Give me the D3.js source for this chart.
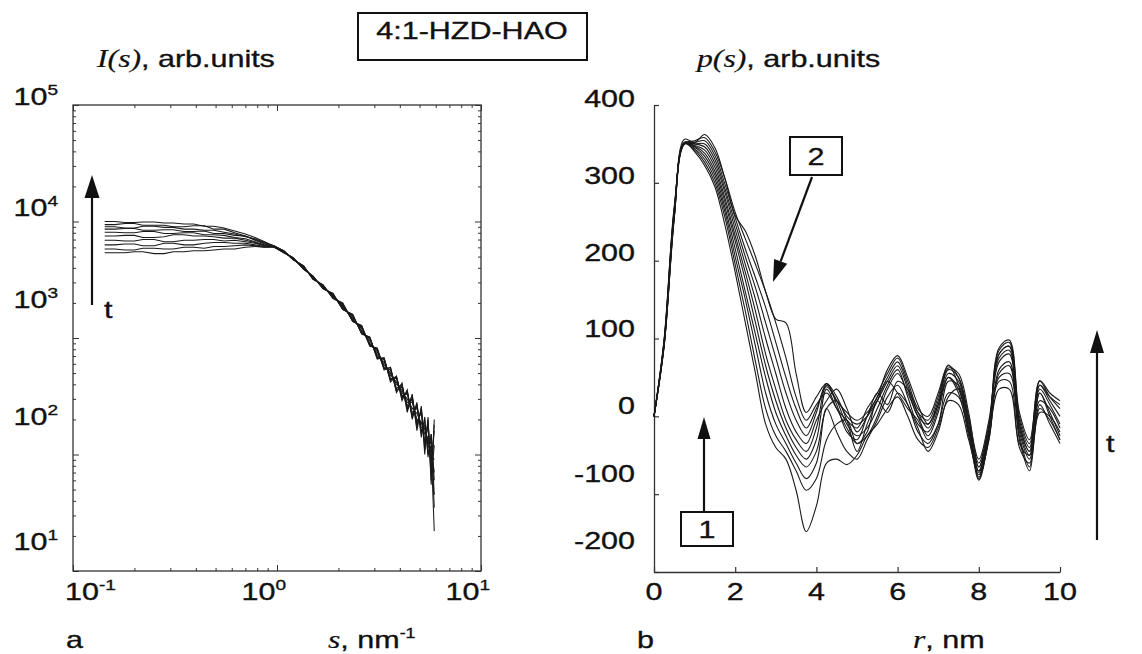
<!DOCTYPE html>
<html><head><meta charset="utf-8">
<script src="https://cdn.jsdelivr.net/npm/d3@7"></script>
<style>body{margin:0;background:#fff} svg{display:block}</style>
</head><body>
<svg id="c" width="1142" height="654"></svg>
<script>
// ---------- DATA ----------
const chartTitle = "4:1-HZD-HAO";

// Panel a: scattering intensity I(s), log-log
const sGrid = [0.143,0.16,0.18,0.2,0.22,0.25,0.28,0.31,0.35,0.39,0.44,0.49,0.55,0.62,0.7,0.78,0.87,
  0.97,1.08,1.2,1.35,1.5,1.68,1.88,2.1,2.35,2.6,2.85,3.1,3.35,3.6,3.85,4.1,4.35,4.6,4.85,5.1,5.3,5.5,5.7,5.9];
const intensity0 = [10000,10000,9800,9800,9900,9900,9700,9700,9500,9500,9100,9100,8800,8300,7800,7300,6700,
  6100,5600,4700,4150,3200,2850,2200,2000,1380,1280,850,820,540,560,350,390,260,320,180,240,120,190,70,180];
const intensity1 = [9400,9400,9600,9600,9300,9300,9300,9000,9000,9200,9200,8600,8600,8000,7500,7000,6500,
  6000,5400,4900,3900,3400,2650,2400,1750,1600,1080,1020,660,680,420,470,300,350,210,270,150,200,100,150,60];
const intensity2 = [9000,9000,8800,8800,9100,9100,8900,8900,8600,8600,8400,8400,8100,7800,7400,7100,6600,
  6200,5550,4720,4100,3250,2800,2250,1950,1400,1250,870,800,550,540,360,380,250,300,190,230,125,180,75,160];
const intensity3 = [8600,8600,8700,8700,8400,8400,8500,8500,8200,8200,8300,7900,7900,7600,7500,6900,6400,
  6050,5450,4880,3920,3380,2700,2380,1780,1560,1100,1000,680,660,440,460,310,340,220,260,160,180,115,130,35];
const intensity4 = [8100,8100,8000,8000,8200,8200,7900,7900,8000,8000,7700,7700,7600,7300,7100,6700,6300,
  6150,5580,4750,4120,3220,2830,2230,1920,1420,1230,880,790,560,530,370,400,240,310,170,250,110,200,60,120];
const intensity5 = [7500,7500,7600,7600,7300,7300,7400,7700,7700,7500,7500,7400,7200,7200,6900,6600,6200,
  6000,5420,4850,3950,3360,2680,2360,1800,1540,1120,990,690,650,450,450,320,330,230,250,170,170,130,110,22];
const intensity6 = [6900,6900,6800,6800,7000,7000,6700,6700,6900,6900,7000,7000,6800,6900,6700,6500,6200,
  6100,5500,4800,4050,3300,2780,2280,1880,1460,1200,900,760,590,500,400,360,280,280,200,190,150,140,100,90];
const intensity7 = [6300,6300,6400,6400,6200,6200,6500,6500,6300,6300,6500,6600,6600,6500,6500,6300,6100,
  6080,5380,4900,3880,3420,2640,2420,1760,1580,1090,1010,670,670,430,470,290,360,200,280,140,210,95,150,45];
const intensity8 = [5800,5800,5700,5700,5900,5900,5800,5800,6000,6000,5900,6100,6100,6200,6300,6200,6000,
  6120,5620,4680,4180,3180,2870,2180,1980,1390,1270,860,810,530,560,340,410,230,330,160,260,100,210,55,200];
const intensity9 = [5400,5400,5400,5500,5500,5300,5300,5500,5500,5600,5600,5700,5800,5800,6000,6100,6000,
  6000,5480,4820,3980,3320,2720,2320,1840,1500,1150,950,720,620,480,420,340,300,250,225,185,165,125,115,70];
const intensitySeries = [intensity0,intensity1,intensity2,intensity3,intensity4,intensity5,intensity6,intensity7,intensity8,intensity9];

// Panel b: distance distribution p(r)
const rGrid = [0,0.25,0.5,0.75,1,1.25,1.5,1.75,2,2.25,2.5,2.75,3,3.25,3.5,3.75,4,4.25,4.5,4.75,5,
  5.25,5.5,5.75,6,6.25,6.5,6.75,7,7.25,7.5,7.75,8,8.25,8.5,8.75,9,9.25,9.5,9.75,10];
const p0 = [0,100,270,352,340,322, 295,245,185,120,55,-10,-40,-55,-95,-148,-115,
  -60,-55,-62,-50,-25,-10,10,25,0,-30,-40,-15,20,15,-30,-72,-25,35,35,-35,-50,15,-10,-35];
const p1 = [0,98,268,350,342,326, 300,255,195,135,70,10,-25,-45,-70,-95,-80,
  -30,-10,-5,-35,-20,20,5,30,15,-20,-35,-10,30,25,-25,-78,-30,45,45,-40,-60,10,-5,-30];
const p2 = [0,97,266,351,344,330, 305,262,205,150,90,30,-10,-35,-60,-80,-60,
  10,-20,-45,-55,-30,-5,25,40,15,-15,-45,-20,25,35,-15,-65,-15,50,55,-30,-70,5,0,-20];
const p3 = [0,96,265,352,346,334, 310,268,215,160,105,50,5,-25,-50,-65,-45,
  10,20,-5,-45,-10,20,45,30,10,-5,-30,-10,45,40,-10,-70,-20,55,65,-25,-65,20,10,-15];
const p4 = [0,95,264,350,347,338, 315,275,225,175,120,65,20,-15,-40,-55,-30,
  35,10,-15,-35,-25,0,35,55,30,0,-25,5,50,35,-20,-75,-30,60,70,-20,-55,30,5,-25];
const p5 = [0,94,262,351,348,342, 320,280,232,185,135,80,35,-5,-30,-45,-15,
  40,20,-10,-25,-15,10,40,60,25,-10,-20,10,55,45,-5,-60,-10,70,80,-15,-50,35,15,-10];
const p6 = [0,93,260,350,350,346, 325,287,240,195,150,100,55,10,-20,-35,-5,
  20,35,10,-20,0,30,15,45,35,5,-15,15,60,50,0,-55,-5,75,85,-10,-45,40,20,0];
const p7 = [0,92,258,352,350,350, 330,292,248,205,165,120,75,30,-5,-25,5,
  42,25,0,-10,0,20,45,65,35,0,-10,20,62,55,5,-65,-15,80,90,-5,-40,45,25,10];
const p8 = [0,92,257,351,352,354, 335,298,255,215,178,140,95,50,10,-15,10,
  38,20,5,-5,5,25,50,70,40,5,-5,25,65,50,-5,-80,-20,85,95,0,-35,46,30,20];
const p9 = [0,91,256,350,354,358, 340,305,262,228,195,160,120,75,25,-5,15,
  30,10,-5,-15,10,30,55,75,45,10,0,30,66,40,-15,-82,-25,88,98,5,-30,40,25,15];
const p10 = [0,90,255,356,352,362, 345,305,258,238,205,160,125,120,55,5,25,
  42,15,-20,-30,0,25,60,78,50,15,-10,15,50,30,-20,-70,-20,80,90,-10,-45,30,0,-30];
const pSeries = [p0,p1,p2,p3,p4,p5,p6,p7,p8,p9,p10];

// Tick values / labels
const aYExponents = [1,2,3,4,5];
const aXExponents = [-1,0,1];
const bYTicks = [-200,-100,0,100,200,300,400];
const bXTicks = [0,2,4,6,8,10];

// ---------- DRAWING ----------
const svg = d3.select("#c");
const SX = 1.27, FS = 24, SUP = 15;
const SANS = "'Liberation Sans', Arial, Helvetica, sans-serif";
const SERIF = "'Liberation Serif', 'Times New Roman', serif";
const INK = "#111";

function stext(x, y, anchor) {
  const g = svg.append("g").attr("transform", `translate(${x},${y}) scale(${SX},1)`);
  return g.append("text").attr("text-anchor", anchor || "start")
    .attr("font-family", SANS).attr("font-size", FS).attr("fill", INK)
    .attr("stroke", INK).attr("stroke-width", 0.35);
}
function arrow(x1, y1, x2, y2, hl, hw) {
  const a = Math.atan2(y2 - y1, x2 - x1);
  const bx = x2 - hl * Math.cos(a), by = y2 - hl * Math.sin(a);
  svg.append("line").attr("x1", x1).attr("y1", y1).attr("x2", bx).attr("y2", by)
    .attr("stroke", INK).attr("stroke-width", 2.2);
  const px = -Math.sin(a) * hw / 2, py = Math.cos(a) * hw / 2;
  svg.append("path").attr("d", `M${x2},${y2}L${bx + px},${by + py}L${bx - px},${by - py}Z`).attr("fill", INK);
}

// ===== Panel a =====
const ax = d3.scaleLog().domain([0.1, 10]).range([73, 481]);
const ay = d3.scaleLog().domain([10, 1e5]).range([571, 105]);
const isMajor = v => Math.abs(Math.log10(v) - Math.round(Math.log10(v))) < 1e-6;

function logAxis(axisFn, scale, transform, sign, vertical) {
  const g = svg.append("g").attr("transform", transform)
    .call(axisFn(scale).tickValues(scale.ticks()).tickSizeInner(-4).tickSizeOuter(0).tickFormat(""));
  g.select(".domain").remove();
  g.selectAll(".tick line").attr("stroke", "#333").attr("stroke-width", 1)
    .each(function (d) {
      const len = isMajor(d) ? 6 : 3;
      d3.select(this).attr(vertical ? "x2" : "y2", sign * len);
    });
}
logAxis(d3.axisBottom, ax, "translate(0,571)", -1, false);
logAxis(d3.axisTop, ax, "translate(0,105)", 1, false);
logAxis(d3.axisLeft, ay, "translate(73,0)", 1, true);
logAxis(d3.axisRight, ay, "translate(481,0)", -1, true);
svg.append("rect").attr("x", 73).attr("y", 105).attr("width", 408).attr("height", 466)
  .attr("fill", "none").attr("stroke", "#333").attr("stroke-width", 1.3);

const aLine = d3.line().x((d, i) => ax(sGrid[i])).y(d => ay(d));
svg.append("g").selectAll("path").data(intensitySeries).join("path")
  .attr("d", aLine).attr("fill", "none").attr("stroke", "#1a1a1a").attr("stroke-width", 1.05);

// y tick labels (panel a)
const aYLabelPos = d3.scaleLinear().domain([1, 2, 3, 4, 5]).range([550, 425, 308, 216, 105]);
aYExponents.forEach(e => {
  const t = stext(58, aYLabelPos(e), "end");
  t.append("tspan").text("10");
  t.append("tspan").attr("font-size", SUP).attr("dy", -10).text(String(e));
});
// x tick labels (panel a)
aXExponents.forEach(e => {
  const t = stext(0, 600, "start");
  t.append("tspan").text("10");
  t.append("tspan").attr("font-size", SUP).attr("dy", -10).text(String(e));
  const w = t.node().getComputedTextLength() * SX;
  const x0 = Math.max(ax(Math.pow(10, e)) + 9 - w, 65);
  d3.select(t.node().parentNode).attr("transform", `translate(${x0},600) scale(${SX},1)`);
});
// axis titles (panel a)
{
  const t = stext(97, 67, "start");
  t.append("tspan").attr("font-family", SERIF).attr("font-style", "italic").attr("font-size", 25).attr("stroke-width", 0.2).text("I(s)");
  t.append("tspan").text(", arb.units");
  const u = stext(328, 648, "start");
  u.append("tspan").attr("font-family", SERIF).attr("font-style", "italic").attr("font-size", 25).attr("stroke-width", 0.2).text("s");
  u.append("tspan").text(", nm");
  u.append("tspan").attr("font-size", 14).attr("dy", -10).text("-1");
  stext(66, 648, "start").text("a");
}
arrow(92, 305, 92, 175, 23, 15);
stext(104, 318, "start").text("t");

// ===== Panel b =====
const bx = d3.scaleLinear().domain([0, 10]).range([654, 1060]);
const by = d3.scaleLinear().domain([-200, 400]).range([572, 105]);
const gby = svg.append("g").attr("transform", "translate(654,0)")
  .call(d3.axisLeft(by).tickValues(bYTicks).tickSizeInner(-5).tickSizeOuter(0).tickFormat(""));
const gbx = svg.append("g").attr("transform", "translate(0,572)")
  .call(d3.axisBottom(bx).tickValues(bXTicks).tickSizeInner(-5).tickSizeOuter(0).tickFormat(""));
[gby, gbx].forEach(g => {
  g.select(".domain").attr("stroke", "#333").attr("stroke-width", 1.3);
  g.selectAll(".tick line").attr("stroke", "#333").attr("stroke-width", 1.2);
});

const bLine = d3.line().x((d, i) => bx(rGrid[i])).y(d => by(d)).curve(d3.curveCatmullRom.alpha(0.5));
svg.append("g").selectAll("path").data(pSeries).join("path")
  .attr("d", bLine).attr("fill", "none").attr("stroke", "#1a1a1a").attr("stroke-width", 1.1);

const bYLabelPos = d3.scaleLinear().domain([-200, 0, 400]).range([549, 414, 107]);
bYTicks.forEach(v => stext(635, bYLabelPos(v), "end").text(String(v)));
bXTicks.forEach(v => stext(bx(v), 600, "middle").text(String(v)));
{
  const t = stext(697, 67, "start");
  t.append("tspan").attr("font-family", SERIF).attr("font-style", "italic").attr("font-size", 25).attr("stroke-width", 0.2).text("p(s)");
  t.append("tspan").text(", arb.units");
  const u = stext(913, 648, "start");
  u.append("tspan").attr("font-family", SERIF).attr("font-style", "italic").attr("font-size", 25).attr("stroke-width", 0.2).text("r");
  u.append("tspan").text(", nm");
  stext(637, 648, "start").text("b");
}
// annotation boxes and arrows
svg.append("rect").attr("x", 790).attr("y", 137).attr("width", 52).attr("height", 38)
  .attr("fill", "#fff").attr("stroke", INK).attr("stroke-width", 2);
stext(816, 165, "middle").text("2");
arrow(812, 177, 773, 282, 22, 14);
svg.append("rect").attr("x", 681).attr("y", 512).attr("width", 52).attr("height", 34)
  .attr("fill", "#fff").attr("stroke", INK).attr("stroke-width", 2);
stext(707, 538, "middle").text("1");
arrow(704, 511, 704, 417, 22, 13);
arrow(1097, 540, 1097, 330, 23, 14);
stext(1106, 452, "start").text("t");

// title box
svg.append("rect").attr("x", 358).attr("y", 13).attr("width", 229).attr("height", 47)
  .attr("fill", "#fff").attr("stroke", INK).attr("stroke-width", 2);
stext(472, 39, "middle").text(chartTitle);
</script>
</body></html>
